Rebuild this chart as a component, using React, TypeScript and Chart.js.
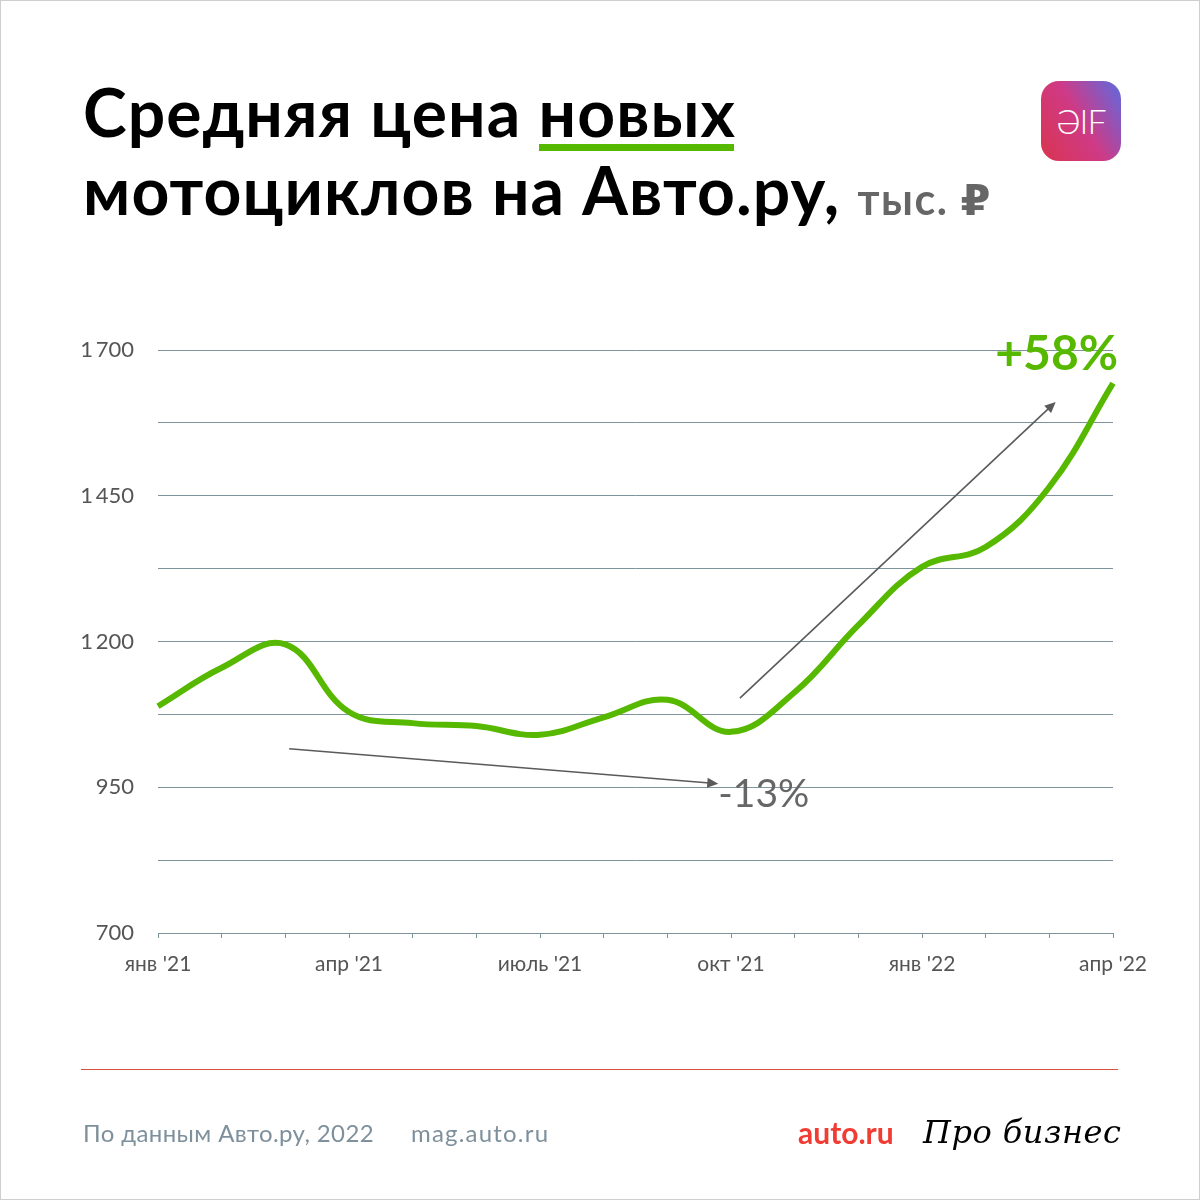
import React, { useEffect, useRef } from "react";
import { Chart, registerables } from "chart.js";

Chart.register(...registerables);

// ---- data ----
const months: string[] = [
  "янв '21", "фев '21", "мар '21", "апр '21", "май '21", "июнь '21",
  "июль '21", "авг '21", "сен '21", "окт '21", "ноя '21", "дек '21",
  "янв '22", "фев '22", "мар '22", "апр '22",
];
const shownMonthLabels: string[] = ["янв '21", "апр '21", "июль '21", "окт '21", "янв '22", "апр '22"];
const avgPrice: number[] = [1089, 1155, 1195, 1079, 1060, 1055, 1040, 1070, 1100, 1045, 1113, 1228, 1328, 1362, 1465, 1643];
const yLabeledTicks: number[] = [700, 950, 1200, 1450, 1700];

// annotation arrows in data coords: [xIndex, value]
const arrowDown = { from: [2.06, 1016], to: [8.8, 956] };
const arrowUp = { from: [9.14, 1103], to: [14.1, 1611] };
const labelDown = { text: "-13%", at: [8.8, 937] };
const labelUp = { text: "+58%", at: [15.08, 1692] };

const GREEN = "#57b800";
const GRID = "#7f939d";
const FONT = "Lato, 'Open Sans', 'DejaVu Sans', sans-serif";

function fmt(v: number): string {
  const s = String(v);
  return s.length > 3 ? s.slice(0, s.length - 3) + "\u2009" + s.slice(s.length - 3) : s;
}

const annotationPlugin = {
  id: "annotations",
  afterDatasetsDraw(chart: any) {
    const { ctx, scales } = chart;
    const xs = scales.x;
    const ys = scales.y;
    const px = (p: number[]) => {
      const i0 = Math.floor(p[0]);
      const f = p[0] - i0;
      const a = xs.getPixelForValue(i0);
      const b = xs.getPixelForValue(i0 + 1);
      return [a + (b - a) * f, ys.getPixelForValue(p[1])];
    };
    const arrow = (arr: { from: number[]; to: number[] }) => {
      const [x1, y1] = px(arr.from);
      const [x2, y2] = px(arr.to);
      const ang = Math.atan2(y2 - y1, x2 - x1);
      const hl = 11;
      const hw = 5;
      ctx.save();
      ctx.strokeStyle = "#5a5a5a";
      ctx.fillStyle = "#5a5a5a";
      ctx.lineWidth = 1.6;
      ctx.beginPath();
      ctx.moveTo(x1, y1);
      ctx.lineTo(x2 - Math.cos(ang) * hl * 0.8, y2 - Math.sin(ang) * hl * 0.8);
      ctx.stroke();
      ctx.beginPath();
      ctx.moveTo(x2, y2);
      ctx.lineTo(x2 - Math.cos(ang) * hl - Math.sin(ang) * hw, y2 - Math.sin(ang) * hl + Math.cos(ang) * hw);
      ctx.lineTo(x2 - Math.cos(ang) * hl + Math.sin(ang) * hw, y2 - Math.sin(ang) * hl - Math.cos(ang) * hw);
      ctx.closePath();
      ctx.fill();
      ctx.restore();
    };
    arrow(arrowDown);
    arrow(arrowUp);

    ctx.save();
    const [dx, dy] = px(labelDown.at);
    ctx.font = `400 39px ${FONT}`;
    ctx.fillStyle = "#666666";
    ctx.textAlign = "left";
    ctx.textBaseline = "middle";
    ctx.fillText(labelDown.text, dx, dy);
    const [ux, uy] = px(labelUp.at);
    ctx.font = `700 48px ${FONT}`;
    ctx.fillStyle = GREEN;
    ctx.textAlign = "right";
    ctx.fillText(labelUp.text, ux, uy);
    ctx.restore();
  },
};

export default function App() {
  const ref = useRef<HTMLCanvasElement | null>(null);

  useEffect(() => {
    if (!ref.current) return;
    const chart = new Chart(ref.current, {
      type: "line",
      data: {
        labels: months,
        datasets: [
          {
            data: avgPrice,
            borderColor: GREEN,
            borderWidth: 6,
            tension: 0.4,
            pointRadius: 0,
            fill: false,
            clip: false as any,
            borderCapStyle: "butt",
          },
        ],
      },
      options: {
        animation: false,
        responsive: false,
        maintainAspectRatio: false,
        devicePixelRatio: 1,
        layout: { padding: { left: 0, top: 350, right: 87, bottom: 207 } },
        plugins: { legend: { display: false }, tooltip: { enabled: false }, title: { display: false } },
        scales: {
          x: {
            offset: false,
            grid: { display: true, drawOnChartArea: false, drawTicks: true, tickLength: 5, color: GRID, lineWidth: 1 },
            border: { display: true, color: GRID, width: 1 },
            ticks: {
              autoSkip: false,
              maxRotation: 0,
              padding: 14,
              color: "#555",
              font: { family: FONT, size: 21 },
              callback: (_v: any, i: number) => (shownMonthLabels.includes(months[i]) ? months[i] : ""),
            },
            afterFit: (s: any) => { s.height = 60; },
          },
          y: {
            min: 700,
            max: 1700,
            grid: { color: GRID, lineWidth: 1, drawTicks: false },
            border: { display: false },
            ticks: {
              stepSize: 125,
              padding: 24,
              color: "#555",
              font: { family: FONT, size: 22 },
              callback: (v: any) => (yLabeledTicks.includes(Number(v)) ? fmt(Number(v)) : ""),
            },
            afterFit: (s: any) => { s.width = 158; },
          },
        },
      },
      plugins: [annotationPlugin],
    });
    return () => chart.destroy();
  }, []);

  return (
    <div
      style={{
        position: "absolute",
        left: 0,
        top: 0,
        width: 1200,
        height: 1200,
        background: "#fff",
        boxSizing: "border-box",
        border: "1px solid #cfcfcf",
        overflow: "hidden",
        fontFamily: FONT,
      }}
    >
      <canvas ref={ref} width={1200} height={1200} style={{ position: "absolute", left: -1, top: -1, width: 1200, height: 1200 }} />
      <div
        style={{
          position: "absolute",
          left: 82,
          top: 72,
          fontSize: 66,
          lineHeight: "78px",
          fontWeight: 700,
          color: "#000",
          whiteSpace: "nowrap",
          letterSpacing: 1.1,
        }}
      >
        <div>
          Средняя цена{" "}
          <span style={{ position: "relative", display: "inline-block" }}>
            новых
            <span style={{ position: "absolute", left: 0, right: 2, top: 71, height: 7, background: GREEN }} />
          </span>
        </div>
        <div>
          мотоциклов на Авто.ру,{" "}
          <span style={{ fontSize: 43, color: "#666", fontWeight: 700, letterSpacing: 1.5 }}>тыс. ₽</span>
        </div>
      </div>
      <div
        style={{
          position: "absolute",
          left: 1040,
          top: 80,
          width: 80,
          height: 80,
          borderRadius: 18,
          background: "linear-gradient(60deg, #d9344f 0%, #cf3a86 50%, #5d6ae0 100%)",
          color: "#fff",
          fontSize: 34,
          fontWeight: 300,
          lineHeight: "80px",
          textAlign: "center",
          letterSpacing: -1,
        }}
      >
        ƏIF
      </div>
      <div style={{ position: "absolute", left: 80, top: 1068, width: 1037, height: 1, background: "#d9503c" }} />
      <div style={{ position: "absolute", left: 82, top: 1117, fontSize: 24, letterSpacing: 0.4, color: "#7d909c", whiteSpace: "nowrap" }}>
        По данным Авто.ру, 2022
      </div>
      <div style={{ position: "absolute", left: 410, top: 1117, fontSize: 24, letterSpacing: 1.2, color: "#7d909c", whiteSpace: "nowrap" }}>
        mag.auto.ru
      </div>
      <div style={{ position: "absolute", left: 797, top: 1113, fontSize: 30, fontWeight: 700, color: "#f03c32", whiteSpace: "nowrap" }}>
        auto.ru
      </div>
      <div
        style={{
          position: "absolute",
          left: 922,
          top: 1112,
          fontSize: 32,
          fontStyle: "italic",
          color: "#000",
          fontFamily: "'DejaVu Serif', serif",
          whiteSpace: "nowrap",
          letterSpacing: 0.5,
        }}
      >
        Про бизнес
      </div>
    </div>
  );
}
